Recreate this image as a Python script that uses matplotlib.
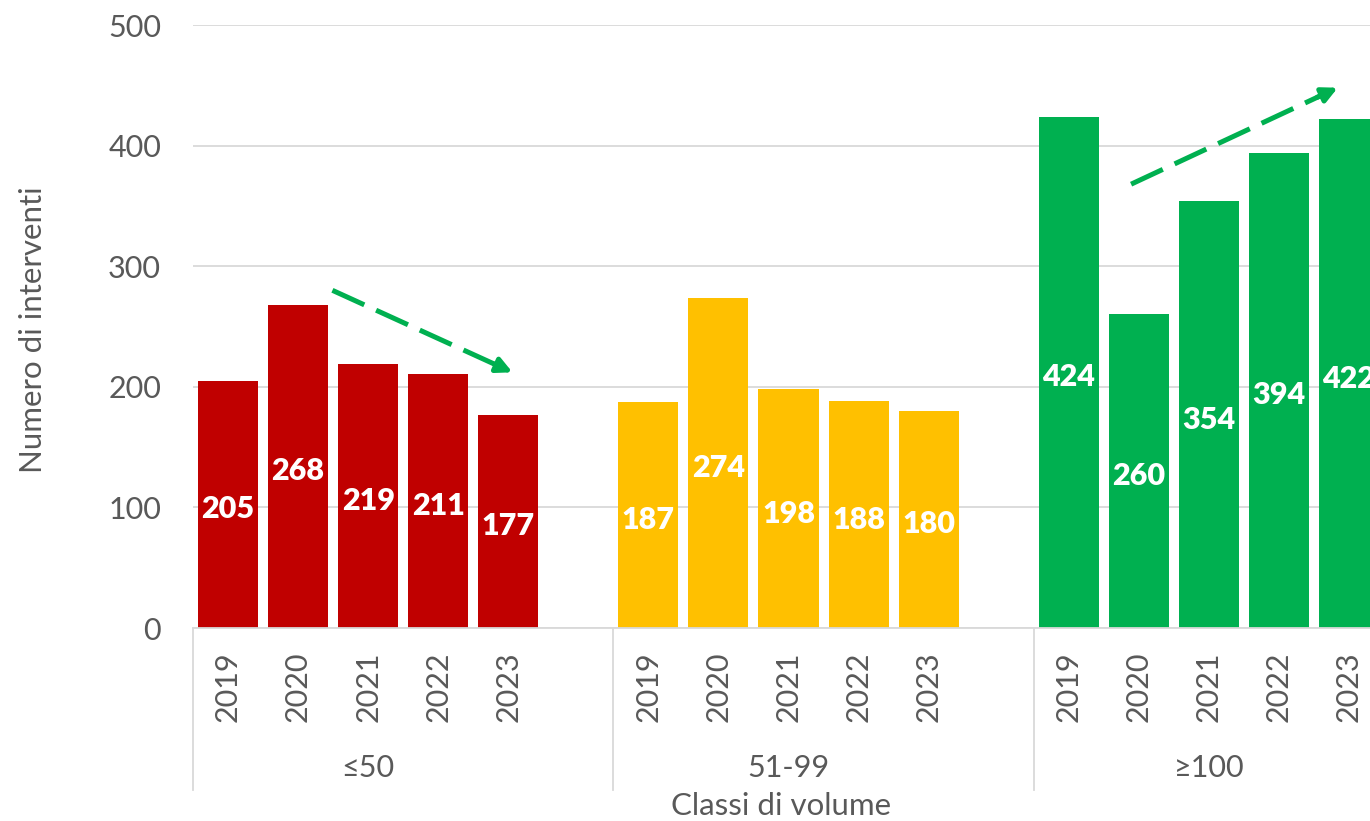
import matplotlib
matplotlib.use("Agg")
import matplotlib.pyplot as plt
import matplotlib.transforms as mtransforms

plt.rcParams['font.family'] = ['Lato', 'DejaVu Sans']

groups = ["≤50", "51-99", "≥100"]
years = ["2019", "2020", "2021", "2022", "2023"]
values = [
    [205, 268, 219, 211, 177],
    [187, 274, 198, 188, 180],
    [424, 260, 354, 394, 422],
]
colors = ["#C00000", "#FFC000", "#00B050"]
trend_color = "#00B050"
text_color = "#595959"
grid_color = "#D9D9D9"

fig = plt.figure(figsize=(13.7, 8.21), dpi=100)
ax = fig.add_axes([193 / 1370, 1 - 628 / 821, 1 - 193 / 1370, (628 - 25) / 821])

# value labels sit a few pixels below the bar's midpoint
label_shift = mtransforms.offset_copy(ax.transData, fig=fig, x=0, y=-5, units="dots")

slot = len(years) + 1
xticks, xlabels = [], []
for g, (vals, col) in enumerate(zip(values, colors)):
    xs = [g * slot + i for i in range(len(years))]
    ax.bar(xs, vals, width=0.857, color=col, zorder=2)
    for x, v in zip(xs, vals):
        ax.text(x, v / 2, str(v), ha="center", va="center", color="white",
                fontsize=22, fontweight="heavy", zorder=3, transform=label_shift)
    xticks += xs
    xlabels += years

ax.set_xlim(-0.5, 16.3)
ax.set_ylim(0, 500)
ax.set_yticks(range(0, 501, 100))
ax.yaxis.grid(True, color=grid_color, linewidth=1.3, zorder=0)
ax.set_axisbelow(True)
for s in ["top", "right", "left"]:
    ax.spines[s].set_visible(False)
ax.spines["bottom"].set_color(grid_color)
ax.spines["bottom"].set_linewidth(1.3)

ax.set_xticks(xticks)
ax.set_xticklabels(xlabels, rotation=90, fontsize=22, color=text_color)
ax.tick_params(axis="x", length=0, pad=17)
ax.tick_params(axis="y", length=0, pad=23, labelsize=22, labelcolor=text_color)

# group separators and group labels below the axis
trans = mtransforms.blended_transform_factory(ax.transData, ax.transAxes)
for g in range(len(groups)):
    xsep = g * slot - 0.5
    ax.plot([xsep, xsep], [0, -0.269], transform=trans, color=grid_color,
            linewidth=1.3, clip_on=False)
    ax.text(g * slot + 2, -0.232, groups[g], transform=trans, ha="center",
            va="center", fontsize=22, color=text_color)

ax.text(7.9, -0.295, "Classi di volume", transform=trans,
        ha="center", va="center", fontsize=22.5, color=text_color)
fig.text(33 / 1370, 1 - 330 / 821, "Numero di interventi", rotation=90,
         ha="center", va="center", fontsize=22.5, color=text_color)

# dashed trend arrows
def trend(x0, y0, x1, y1):
    f = 0.92
    xm, ym = x0 + (x1 - x0) * f, y0 + (y1 - y0) * f
    ax.plot([x0, xm], [y0, ym], color=trend_color, linewidth=3.6,
            dashes=(7, 2.6), solid_capstyle="butt", dash_capstyle="butt", zorder=4)
    ax.annotate("", xy=(x1, y1), xytext=(xm - (x1 - x0) * 0.02, ym - (y1 - y0) * 0.02),
                arrowprops=dict(arrowstyle="-|>,head_length=0.9,head_width=0.45",
                                color=trend_color, lw=3.6, shrinkA=0, shrinkB=0),
                zorder=4)

trend(1.49, 280, 4.06, 212)
trend(12.89, 368, 15.84, 448)

fig.savefig("out.png", dpi=100)
